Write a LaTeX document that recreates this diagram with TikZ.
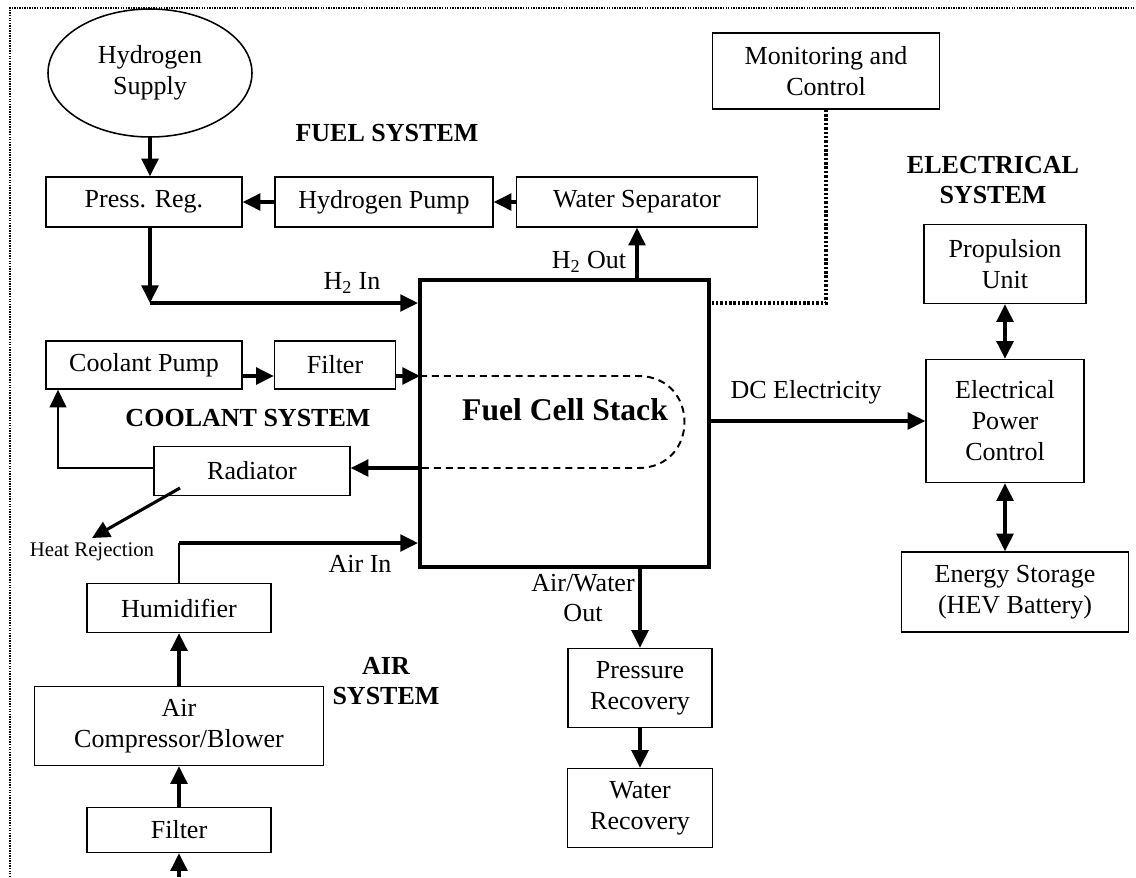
\documentclass[tikz,border=0pt]{standalone}
\usepackage{fontspec}
\setmainfont{Liberation Serif}
\usetikzlibrary{positioning,arrows.meta,calc,shapes.geometric}

\begin{document}
\begin{tikzpicture}[
    x=0.025cm, y=-0.025cm,
    font=\fontsize{18.5}{22}\selectfont,
    >={Triangle[length=0.44cm, width=0.42cm]},
    box/.style={draw, line width=1.1pt, align=center, inner sep=0pt},
    sz/.style 2 args={minimum width=#1*0.025cm, minimum height=#2*0.025cm},
    title/.style={font=\fontsize{18.5}{22}\selectfont\bfseries, align=center},
    arr/.style={->, line width=2.2pt},
    dbl/.style={<->, line width=2.2pt},
    thinline/.style={line width=1.1pt},
    ctrl/.style={line width=2.6pt, dash pattern=on 1.8pt off 1.3pt}
  ]
    \useasboundingbox (0,0) rectangle (1136,877);
    \draw[line width=0.8pt, dash pattern=on 1pt off 0.8pt] (10,877) -- (10,8) -- (1136,8);

    \node[box, ellipse, sz={204}{128}] (hsup) at (150,73) {Hydrogen\\Supply};
    \node[box, sz={196}{50}] (preg) at (144,202) {Press. Reg.};
    \node[box, sz={218}{50}] (hpump) at (384,202) {Hydrogen Pump};
    \node[box, sz={241}{50}] (wsep) at (637,202) {Water Separator};
    \node[box, sz={227}{76}] (mon) at (826,71) {Monitoring and\\Control};

    \node[draw, line width=3pt, sz={289}{287}] (stack) at (564.5,423.5) {};
    \node[font=\fontsize{22.5}{27}\selectfont\bfseries] (stacklbl) at (565,410) {Fuel Cell Stack};

    \node[box, sz={196}{48}] (cpump) at (144,365) {Coolant Pump};
    \node[box, sz={121}{48}] (cfilt) at (335,365) {Filter};
    \node[box, sz={196}{49}] (rad) at (252,471) {Radiator};

    \node[box, sz={184}{49}] (hum) at (179,608) {Humidifier};
    \node[box, sz={289}{79}] (comp) at (179,726) {Air\\Compressor/Blower};
    \node[box, sz={184}{45}] (afilt) at (179,830) {Filter};

    \node[box, sz={144}{79}] (prec) at (640,688) {Pressure\\Recovery};
    \node[box, sz={145}{79}] (wrec) at (640,808) {Water\\Recovery};

    \node[box, sz={162}{79}] (prop) at (1005,264) {Propulsion\\Unit};
    \node[box, sz={158}{123}] (epc) at (1005,421) {Electrical\\Power\\Control};
    \node[box, sz={227}{80}] (estor) at (1015,592) {Energy Storage\\(HEV Battery)};

    \node[title] (fuelsys) at (387,133) {FUEL SYSTEM};
    \node[title] (coolsys) at (248,418) {COOLANT SYSTEM};
    \node[title] (airsys) at (386,681) {AIR\\SYSTEM};
    \node[title] (elecsys) at (993,180) {ELECTRICAL\\SYSTEM};

    \node (h2in) at (352,283) {H\textsubscript{2} In};
    \node (h2out) at (589,262) {H\textsubscript{2} Out};
    \node (dcel) at (806,392) {DC Electricity};
    \node (airin) at (360,564) {Air In};
    \node[align=center] (awout) at (583,598) {Air/Water\\Out};
    \node[font=\fontsize{14.8}{18}\selectfont, anchor=north] (hrej) at (92,538) {Heat Rejection};

    \coordinate (h2c) at (150,303);
    \coordinate (ctl) at (709,303);
    \coordinate (cin) at (420,376);
    \coordinate (cout) at (420,468);
    \coordinate (cret) at (58,468);
    \coordinate (hr) at (180,488);
    \coordinate (ain) at (179,543);
    \coordinate (airsrc) at (179,877);

    \draw[arr] (hsup.south) -- (hsup.south |- preg.north);
    \draw[arr] (preg.south -| h2c) -- (h2c);
    \draw[arr] (h2c) -- (stack.west |- h2c);
    \draw[arr] (hpump) -- (preg);
    \draw[arr] (wsep) -- (hpump);
    \draw[arr] (wsep.south |- stack.north) -- (wsep.south);
    \draw[ctrl] (mon.south) |- (ctl);

    \draw[arr] (cpump.east |- cin) -- (cfilt.west |- cin);
    \draw[arr] (cfilt.east |- cin) -- (cin);
    \draw[line width=1.4pt, dash pattern=on 5pt off 3.5pt] (cin) -- (638,376) .. controls (700,376) and (700,468) .. (638,468) -- (cout);
    \draw[arr] (cout) -- (rad.east |- cout);
    \draw[thinline, ->] (rad.west |- cret) -- (cret) -- (cret |- cpump.south);
    \draw[arr] (hr) -- (hrej.north);

    \draw[thinline] (hum.north) -- (ain);
    \draw[arr] (ain) -- (stack.west |- ain);
    \draw[arr] (comp.north) -- (hum.south);
    \draw[arr] (afilt.north) -- (comp.south);
    \draw[arr] (airsrc) -- (afilt.south);

    \draw[arr] (prec.north |- stack.south) -- (prec.north);
    \draw[arr] (prec.south) -- (wrec.north);

    \draw[arr] (stack.east |- epc.west) -- (epc.west);
    \draw[dbl] (prop.south -| epc.north) -- (epc.north);
    \draw[dbl] (epc.south) -- (epc.south |- estor.north);
  \end{tikzpicture}
\end{document}
